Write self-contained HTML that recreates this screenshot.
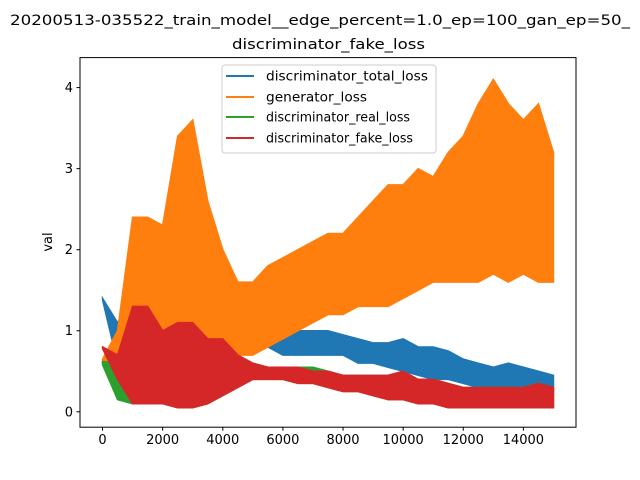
<!DOCTYPE html>
<html><head><meta charset="utf-8"><style>
body{margin:0;background:#fff;}
svg{display:block;font-family:"DejaVu Sans","Liberation Sans",sans-serif;}
</style></head><body>
<svg id="chart" width="640" height="480" viewBox="0 0 640 480" xmlns="http://www.w3.org/2000/svg">
<rect width="640" height="480" fill="#fff"/>
<text x="10" y="25" font-size="14" textLength="620" lengthAdjust="spacingAndGlyphs">20200513-035522_train_model__edge_percent=1.0_ep=100_gan_ep=50_</text>
<text x="232" y="49" font-size="14" textLength="193" lengthAdjust="spacingAndGlyphs">discriminator_fake_loss</text>
<g id="marks"></g>
<rect x="80" y="57.6" width="496" height="369.6" fill="none" stroke="#000" stroke-width="1"/>
<g id="axes"></g>
<text transform="translate(52,242) rotate(-90)" text-anchor="middle" font-size="13">val</text>
<g>
<rect x="222" y="65" width="214" height="88" rx="3" fill="#fff" fill-opacity="0.8" stroke="#ccc"/>
<line x1="226" y1="76" x2="254" y2="76" stroke="#1f77b4" stroke-width="2"/>
<text x="266" y="80.5" font-size="13" textLength="162" lengthAdjust="spacingAndGlyphs">discriminator_total_loss</text>
<line x1="226" y1="97" x2="254" y2="97" stroke="#ff7f0e" stroke-width="2"/>
<text x="266" y="101.5" font-size="13" textLength="101" lengthAdjust="spacingAndGlyphs">generator_loss</text>
<line x1="226" y1="117" x2="254" y2="117" stroke="#2ca02c" stroke-width="2"/>
<text x="266" y="121.5" font-size="13" textLength="144" lengthAdjust="spacingAndGlyphs">discriminator_real_loss</text>
<line x1="226" y1="138" x2="254" y2="138" stroke="#d62728" stroke-width="2"/>
<text x="266" y="142.5" font-size="13" textLength="147" lengthAdjust="spacingAndGlyphs">discriminator_fake_loss</text>
</g>
</svg>
<script>
const steps=[0,500,1000,1500,2000,2500,3000,3500,4000,4500,5000,5500,6000,6500,7000,7500,8000,8500,9000,9500,10000,10500,11000,11500,12000,12500,13000,13500,14000,14500,15000];
const totalLo=[1.38,0.6,0.5,0.4,0.4,0.4,0.4,0.5,0.6,0.8,0.8,0.8,0.7,0.7,0.7,0.7,0.7,0.6,0.6,0.55,0.5,0.45,0.4,0.4,0.35,0.3,0.3,0.3,0.2,0.25,0.25];
const totalHi=[1.4,1.1,1.4,1.3,1.2,1.1,1.2,1.3,1.9,1.5,1.3,1.1,1.0,1.0,1.0,1.0,0.95,0.9,0.85,0.85,0.9,0.8,0.8,0.75,0.65,0.6,0.55,0.6,0.55,0.5,0.45];
const genLo=[0.6,0.65,0.9,0.9,1.0,0.9,0.7,0.6,0.6,0.7,0.7,0.8,0.9,1.0,1.1,1.2,1.2,1.3,1.3,1.3,1.4,1.5,1.6,1.6,1.6,1.6,1.7,1.6,1.7,1.6,1.6];
const genHi=[0.65,1.0,2.4,2.4,2.3,3.4,3.6,2.6,2.0,1.6,1.6,1.8,1.9,2.0,2.1,2.2,2.2,2.4,2.6,2.8,2.8,3.0,2.9,3.2,3.4,3.8,4.1,3.8,3.6,3.8,3.2];
const realLo=[0.58,0.15,0.1,0.1,0.1,0.05,0.05,0.1,0.2,0.3,0.4,0.4,0.4,0.35,0.35,0.3,0.25,0.25,0.2,0.15,0.15,0.1,0.1,0.05,0.05,0.05,0.05,0.05,0.05,0.05,0.05];
const realHi=[0.62,0.6,1.0,1.0,0.9,1.0,1.0,0.8,0.8,0.65,0.6,0.55,0.55,0.55,0.55,0.5,0.45,0.45,0.45,0.45,0.5,0.4,0.4,0.35,0.3,0.3,0.3,0.3,0.3,0.35,0.3];
const fakeLo=[0.78,0.4,0.1,0.1,0.1,0.05,0.05,0.1,0.2,0.3,0.4,0.4,0.4,0.35,0.35,0.3,0.25,0.25,0.2,0.15,0.15,0.1,0.1,0.05,0.05,0.05,0.05,0.05,0.05,0.05,0.05];
const fakeHi=[0.8,0.7,1.3,1.3,1.0,1.1,1.1,0.9,0.9,0.7,0.6,0.55,0.55,0.55,0.5,0.5,0.45,0.45,0.45,0.45,0.5,0.4,0.4,0.35,0.3,0.3,0.3,0.3,0.3,0.35,0.3];
const xTicks=[0,2000,4000,6000,8000,10000,12000,14000];
const yTicks=[0,1,2,3,4];
const X0=80,X1=576,Y0=427.2,Y1=57.6,xmin=-750,xmax=15750,ymin=-0.19,ymax=4.37;
const sx=v=>X0+(v-xmin)/(xmax-xmin)*(X1-X0);
const sy=v=>Y0-(v-ymin)/(ymax-ymin)*(Y0-Y1);
const NS="http://www.w3.org/2000/svg";
const marks=document.getElementById('marks'),axes=document.getElementById('axes');
function band(lo,hi,color,name){
  const pts=[];
  steps.forEach((s,i)=>pts.push(sx(s)+','+sy(hi[i])));
  for(let i=steps.length-1;i>=0;i--)pts.push(sx(steps[i])+','+sy(lo[i]));
  const p=document.createElementNS(NS,'polygon');
  p.setAttribute('points',pts.join(' '));
  p.setAttribute('fill',color);p.setAttribute('stroke',color);p.setAttribute('stroke-width','1.5');
  
  
  marks.appendChild(p);
}
band(totalLo,totalHi,'#1f77b4','series-discriminator-total-loss');
band(genLo,genHi,'#ff7f0e','series-generator-loss');
band(realLo,realHi,'#2ca02c','series-discriminator-real-loss');
band(fakeLo,fakeHi,'#d62728','series-discriminator-fake-loss');
xTicks.forEach(t=>{
  const x=sx(t);
  const l=document.createElementNS(NS,'line');
  l.setAttribute('x1',x);l.setAttribute('x2',x);l.setAttribute('y1',Y0);l.setAttribute('y2',Y0+3.5);l.setAttribute('stroke','#000');
  
  
  axes.appendChild(l);
  const tx=document.createElementNS(NS,'text');
  tx.setAttribute('x',x);tx.setAttribute('y',Y0+17);tx.setAttribute('text-anchor','middle');tx.setAttribute('font-size','13');
  tx.textContent=t;
  
  
  axes.appendChild(tx);
});
yTicks.forEach(t=>{
  const y=sy(t);
  const l=document.createElementNS(NS,'line');
  l.setAttribute('x1',X0-3.5);l.setAttribute('x2',X0);l.setAttribute('y1',y);l.setAttribute('y2',y);l.setAttribute('stroke','#000');
  
  
  axes.appendChild(l);
  const tx=document.createElementNS(NS,'text');
  tx.setAttribute('x',X0-7);tx.setAttribute('y',y+4.5);tx.setAttribute('text-anchor','end');tx.setAttribute('font-size','13');
  tx.textContent=t;
  
  
  axes.appendChild(tx);
});
</script>
</body></html>
